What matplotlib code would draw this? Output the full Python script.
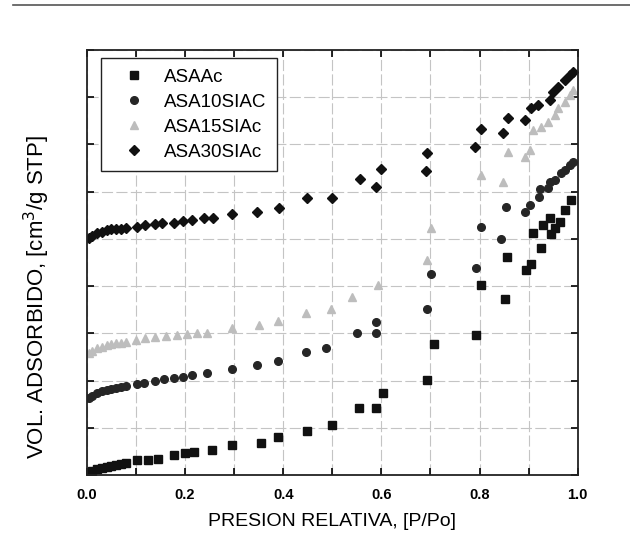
import matplotlib
matplotlib.use('Agg')
import matplotlib.pyplot as plt
from matplotlib.lines import Line2D

plt.rcParams['font.family'] = ['Liberation Sans', 'DejaVu Sans']

# ASAAc (squares)
asa_x = [0.005, 0.01, 0.02, 0.03, 0.04, 0.05, 0.06, 0.07, 0.08,
         0.101, 0.124, 0.144, 0.178, 0.199, 0.219, 0.254, 0.296, 0.355, 0.39, 0.448, 0.5,
         0.554, 0.59, 0.604, 0.692, 0.708, 0.793, 0.803, 0.852, 0.856, 0.895, 0.905, 0.909,
         0.925, 0.929, 0.943, 0.945, 0.953, 0.963, 0.974, 0.986]
asa_y = [0.04, 0.08, 0.12, 0.15, 0.18, 0.2, 0.22, 0.24, 0.26,
         0.32, 0.32, 0.34, 0.42, 0.47, 0.49, 0.53, 0.64, 0.68, 0.8, 0.93, 1.06,
         1.42, 1.42, 1.74, 2.01, 2.78, 2.97, 4.03, 3.73, 4.62, 4.34, 4.47, 5.13,
         4.81, 5.3, 5.44, 5.1, 5.23, 5.36, 5.61, 5.83]

# ASA10SIAC (circles)
a10_x = [0.005, 0.01, 0.02, 0.03, 0.04, 0.05, 0.06, 0.07, 0.08,
         0.101, 0.117, 0.138, 0.158, 0.178, 0.195, 0.215, 0.245, 0.296, 0.347, 0.39, 0.446, 0.487,
         0.55, 0.59, 0.59, 0.692, 0.702, 0.793, 0.803, 0.844, 0.854, 0.892, 0.903, 0.921,
         0.923, 0.939, 0.943, 0.953, 0.966, 0.974, 0.984, 0.99]
a10_y = [1.63, 1.68, 1.73, 1.77, 1.8, 1.83, 1.85, 1.87, 1.89,
         1.93, 1.95, 1.99, 2.03, 2.05, 2.08, 2.12, 2.16, 2.24, 2.33, 2.42, 2.6, 2.69,
         3.0, 3.0, 3.24, 3.52, 4.26, 4.39, 5.25, 5.0, 5.68, 5.57, 5.72, 5.89,
         6.06, 6.08, 6.21, 6.25, 6.4, 6.46, 6.57, 6.63]

# ASA15SIAc (triangles)
a15_x = [0.005, 0.01, 0.02, 0.03, 0.04, 0.05, 0.06, 0.07, 0.08,
         0.1, 0.118, 0.138, 0.162, 0.183, 0.203, 0.225, 0.244, 0.296, 0.351, 0.39, 0.446, 0.497,
         0.54, 0.594, 0.692, 0.702, 0.803, 0.848, 0.858, 0.892, 0.903, 0.909,
         0.925, 0.939, 0.953, 0.96, 0.974, 0.984, 0.99]
a15_y = [2.58, 2.63, 2.68, 2.72, 2.75, 2.77, 2.79, 2.8, 2.82,
         2.86, 2.9, 2.92, 2.94, 2.97, 2.99, 3.0, 3.0, 3.11, 3.18, 3.26, 3.43, 3.52,
         3.77, 4.03, 4.55, 5.23, 6.36, 6.2, 6.84, 6.74, 6.89, 7.31,
         7.37, 7.48, 7.63, 7.78, 7.9, 8.05, 8.16]

# ASA30SIAc (diamonds)
a30_x = [0.005, 0.01, 0.02, 0.03, 0.04, 0.05, 0.06, 0.07, 0.08,
         0.101, 0.118, 0.138, 0.152, 0.178, 0.195, 0.215, 0.239, 0.256, 0.296, 0.347, 0.391, 0.448, 0.499,
         0.556, 0.59, 0.6, 0.69, 0.692, 0.791, 0.803, 0.848, 0.858, 0.892, 0.905, 0.919,
         0.943, 0.949, 0.96, 0.974, 0.984, 0.99]
a30_y = [5.02, 5.07, 5.12, 5.15, 5.18, 5.2, 5.21, 5.22, 5.23,
         5.25, 5.3, 5.32, 5.34, 5.34, 5.38, 5.4, 5.44, 5.44, 5.53, 5.57, 5.66, 5.87, 5.87,
         6.27, 6.1, 6.48, 6.44, 6.82, 6.95, 7.33, 7.25, 7.56, 7.52, 7.78, 7.84,
         7.94, 8.11, 8.22, 8.37, 8.47, 8.54]

labels = ['ASAAc', 'ASA10SIAC', 'ASA15SIAc', 'ASA30SIAc']
x_ticks = [0.0, 0.1, 0.2, 0.3, 0.4, 0.5, 0.6, 0.7, 0.8, 0.9, 1.0]
x_labels = ['0.0', '', '0.2', '', '0.4', '', '0.6', '', '0.8', '', '1.0']

fig = plt.figure(figsize=(6.3, 5.38), dpi=100)
ax = fig.add_axes([0.138, 0.117, 0.779, 0.790])

# scan edge line at top
fig.add_artist(Line2D([0.02, 1.0], [0.99, 0.99], color='#555555', lw=1.2))

ax.plot(asa_x, asa_y, 's', color='#111111', ms=6, ls='none', label=labels[0])
ax.plot(a10_x, a10_y, 'o', color='#262626', ms=5.5, ls='none', label=labels[1])
ax.plot(a15_x, a15_y, '^', color='#bdbdbd', ms=5.5, ls='none', label=labels[2])
ax.plot(a30_x, a30_y, 'D', color='#111111', ms=5.5, ls='none', label=labels[3])

ax.set_xlim(0, 1.0)
ax.set_ylim(0, 9)
ax.set_xticks(x_ticks)
ax.set_xticklabels(x_labels, fontweight='bold', fontsize=10.5)
ax.set_yticks(range(0, 10))
ax.set_yticklabels([])
ax.tick_params(direction='in', top=True, right=True, length=5, width=1.2)
ax.tick_params(axis='x', pad=9)
ax.grid(True, color='#c4c4c4', lw=0.8, ls=(0, (10, 3)))
ax.set_axisbelow(True)
for s in ax.spines.values():
    s.set_linewidth(1.3)
    s.set_color('#222222')

ax.set_xlabel('PRESION RELATIVA, [P/Po]', fontsize=14, labelpad=8)
ax.set_ylabel('VOL. ADSORBIDO, [cm$^3$/g STP]', fontsize=16)
ax.yaxis.set_label_coords(-0.072, 0.42)

leg = ax.legend(loc='upper left', bbox_to_anchor=(0.028, 0.981), fontsize=13.5,
                fancybox=False, edgecolor='#222222', framealpha=1,
                handletextpad=0.35, labelspacing=0.42, borderpad=0.55,
                handlelength=2.5, borderaxespad=0)
leg.get_frame().set_linewidth(1.0)

plt.savefig('out.png', dpi=100)
